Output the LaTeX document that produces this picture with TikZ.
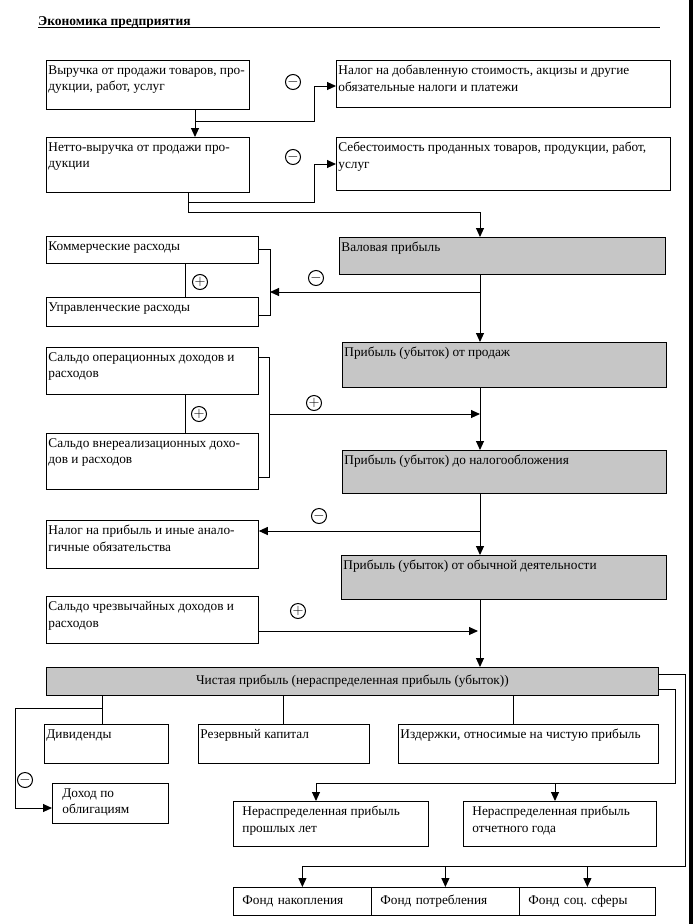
\documentclass[tikz,border=0pt]{standalone}
\usepackage{fontspec}
\setmainfont{Liberation Serif}
\usetikzlibrary{arrows.meta, calc}

% text block inside a box: [indent]{width}{height}{text}
\newcommand{\bt}[4][2pt]{\parbox[t][#3][t]{#2}{\raggedright\leftskip=#1\vspace*{5pt}#4}}

\begin{document}
\begin{tikzpicture}[x=1pt, y=-1pt,
  font=\fontsize{13.3}{16.5}\selectfont,
  box/.style={draw, anchor=north west, inner sep=0pt, line width=0.8pt},
  gbox/.style={box, fill=gray!45},
  fbox/.style={box, minimum height=28pt, inner xsep=9pt, align=left},
  sgn/.style={circle, draw, inner sep=0pt, minimum size=15pt, line width=1pt},
  arr/.style={line width=1pt, -{Triangle[length=9pt, width=8pt]}},
  ln/.style={line width=1pt}]
\useasboundingbox (0,0) rectangle (693,924);
\fill (689,0) rectangle (693,924);

% header
\node[anchor=base west, inner sep=0pt, font=\bfseries\fontsize{13.5}{15}\selectfont] (title) at (38,25) {Экономика предприятия};
\draw[line width=1.1pt] ($(title.base west)+(0,2.5)$) -- +(622,0);

% revenue
\node[box] (vyr) at (46,60) {\bt{203pt}{49pt}{Выручка от продажи товаров, про-\\дукции, работ, услуг}};
\node[box] (nds) at (336,60) {\bt{334pt}{47pt}{Налог на добавленную стоимость, акцизы и другие\\обязательные налоги и платежи}};
\node[box] (netto) at (46,137) {\bt{203pt}{55pt}{Нетто-выручка от продажи про-\\дукции}};
\node[box] (seb) at (336,137) {\bt{334pt}{53pt}{Себестоимость проданных товаров, продукции, работ,\\услуг}};

\coordinate (j1) at (195,121);
\coordinate (k1) at (314,86);
\draw[arr] (vyr.south -| j1) -- (netto.north -| j1);
\draw[arr] (j1) -| (k1) -- (k1 -| nds.west);
\node[sgn] (m1) at (293,82) {$-$};

\coordinate (j2) at (188,202);
\coordinate (k2) at (314,164);
\coordinate (j3) at (188,212);
\coordinate (mx) at (480,0);
\draw[ln] (netto.south -| j3) -- (j3);
\draw[arr] (j2) -| (k2) -- (k2 -| seb.west);
\node[sgn] (m2) at (293,157) {$-$};

% profit chain
\node[gbox] (val) at (339,237) {\bt{326pt}{37pt}{Валовая прибыль}};
\node[gbox] (prod) at (342,342) {\bt{324pt}{45pt}{Прибыль (убыток) от продаж}};
\node[gbox] (donal) at (342,450) {\bt{324pt}{43pt}{Прибыль (убыток) до налогообложения}};
\node[gbox] (obych) at (341,555) {\bt{325pt}{44pt}{Прибыль (убыток) от обычной деятельности}};
\node[gbox, minimum width=612pt, minimum height=28pt] (chist) at (46,667) {Чистая прибыль (нераспределенная прибыль (убыток))};

\draw[arr] (j3) -| (val.north -| mx);
\draw[arr] (val.south -| mx) -- (prod.north -| mx);
\draw[arr] (prod.south -| mx) -- (donal.north -| mx);
\draw[arr] (donal.south -| mx) -- (obych.north -| mx);
\draw[arr] (obych.south -| mx) -- (chist.north -| mx);

% expenses
\node[box] (kom) at (46,236) {\bt{212pt}{27pt}{Коммерческие расходы}};
\node[box] (upr) at (46,297) {\bt{212pt}{29pt}{Управленческие расходы}};
\coordinate (b1) at (270,249);
\coordinate (j4) at (480,292);
\draw[ln] (kom.east |- b1) -- (b1) |- ($(upr.south east)+(0,-11)$) -- ($(upr.south east)+(0,-11)$);
\draw[ln] ($(kom.south west)+(139,0)$) -- ($(upr.north west)+(139,0)$);
\draw[arr] (j4) -- (j4 -| b1);
\node[sgn] (p1) at (200,282) {$+$};
\node[sgn] (m3) at (316,278) {$-$};

% other income
\node[box] (oper) at (46,347) {\bt{212pt}{47pt}{Сальдо операционных доходов и\\расходов}};
\node[box] (vner) at (46,433) {\bt{212pt}{56pt}{Сальдо внереализационных дохо-\\дов и расходов}};
\coordinate (b2) at (269,414);
\draw[ln] ($(oper.north east)+(0,10)$) -| ($(vner.north east)+(11,44)$) -- ($(vner.north east)+(0,44)$);
\draw[ln] ($(oper.south west)+(139,0)$) -- ($(vner.north west)+(139,0)$);
\draw[arr] (b2) -- (b2 -| mx);
\node[sgn] (p2) at (199,414) {$+$};
\node[sgn] (p3) at (314,403) {$+$};

% tax
\node[box] (nalog) at (46,520) {\bt{212pt}{48pt}{Налог на прибыль и иные анало-\\гичные обязательства}};
\coordinate (j5) at (480,531);
\draw[arr] (j5) -- (j5 -| nalog.east);
\node[sgn] (m4) at (319,516) {$-$};

\node[box] (chrez) at (46,596) {\bt{212pt}{47pt}{Сальдо чрезвычайных доходов и\\расходов}};
\coordinate (j6) at (478,631);
\draw[arr] (chrez.east |- j6) -- (j6);
\node[sgn] (p4) at (298,611) {$+$};

% distribution
\node[box] (div) at (44,724) {\bt{124pt}{39pt}{Дивиденды}};
\node[box] (rez) at (198,724) {\bt{171pt}{39pt}{Резервный капитал}};
\node[box] (izd) at (398,724) {\bt{260pt}{39pt}{Издержки, относимые на чистую прибыль}};
\node[box] (dohod) at (52,783) {\bt[10pt]{116pt}{40pt}{Доход по\\облигациям}};
\node[box] (npl) at (233,801) {\bt[9pt]{195pt}{45pt}{Нераспределенная прибыль\\прошлых лет}};
\node[box] (notch) at (463,801) {\bt[9pt]{193pt}{45pt}{Нераспределенная прибыль\\отчетного года}};
\node[fbox, text width=120pt] (fn1) at (233,887) {Фонд накопления};
\node[fbox, text width=130pt] (fn2) at (371,887) {Фонд потребления};
\node[fbox, text width=118pt] (fn3) at (519,887) {Фонд соц.\ сферы};

\coordinate (d1) at (102,708);
\coordinate (d2) at (15,808);
\coordinate (i1) at (513,0);
\draw[ln] (chist.south -| d1) -- (div.north -| d1);
\draw[arr] (d1) -| (d2) -- (d2 -| dohod.west);
\node[sgn] (m5) at (25,780) {$-$};
\draw[ln] (chist.south -| rez.north) -- (rez.north);
\draw[ln] (chist.south -| i1) -- (izd.north -| i1);

\coordinate (r2) at (675,783);
\coordinate (a1) at (316,783);
\coordinate (a2) at (555,783);
\draw[ln] ($(chist.south east)+(0,-6)$) -| (r2) -- (a1);
\draw[arr] (a1) -- (npl.north -| a1);
\draw[arr] (a2) -- (notch.north -| a2);

\coordinate (r1) at (685,866);
\draw[ln] ($(chist.north east)+(0,7)$) -| (r1) -- (r1 -| fn1.north);
\foreach \f in {fn1,fn2,fn3}
  \draw[arr] (r1 -| \f.north) -- (\f.north);
\end{tikzpicture}
\end{document}
